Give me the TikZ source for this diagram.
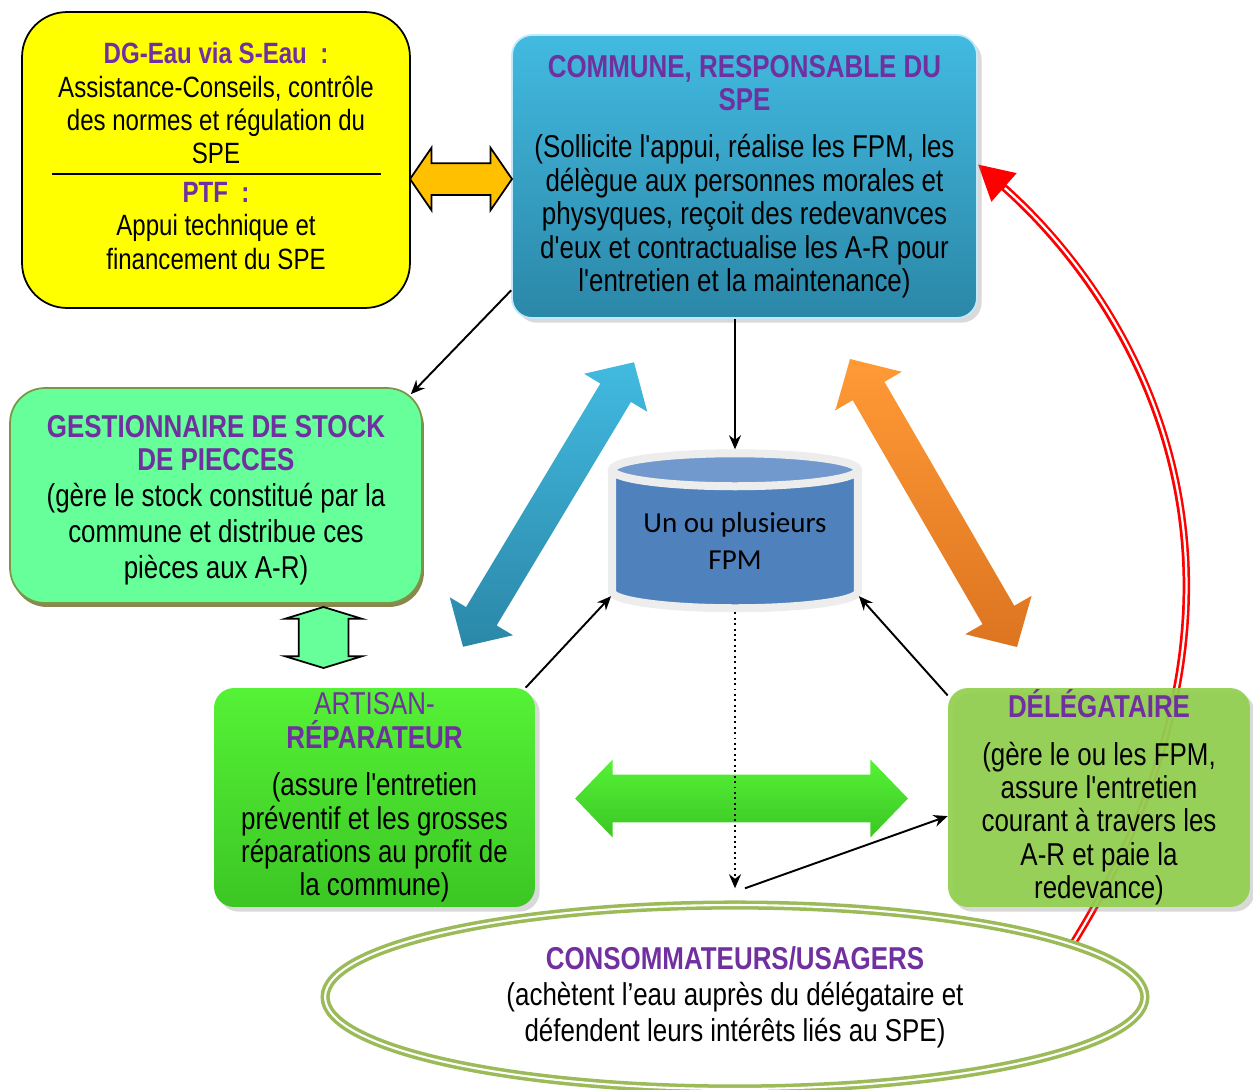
\documentclass[tikz,border=0pt]{standalone}
\usepackage{fontspec}
\setmainfont[FakeStretch=0.82,Ligatures=TeXOff]{Liberation Sans}
\newfontfamily\calibri{Carlito}
\usetikzlibrary{positioning, calc, shapes.geometric, shapes.arrows, arrows.meta, shadows}
\pgfdeclarelayer{fond}
\pgfsetlayers{fond,main}

\definecolor{violetTitre}{HTML}{7030A0}
\definecolor{jaune}{HTML}{FFFF00}
\definecolor{bleuHaut}{HTML}{42BAE0}
\definecolor{bleuBas}{HTML}{2B87A8}
\definecolor{vertClair}{HTML}{66FF99}
\definecolor{vertVif}{HTML}{55F236}
\definecolor{vertVifBas}{HTML}{3CC624}
\definecolor{vertDeleg}{HTML}{92D050}
\definecolor{vertOlive}{HTML}{9BBB59}
\definecolor{orangeHaut}{HTML}{FF9A36}
\definecolor{orangeBas}{HTML}{DD7420}
\definecolor{orangeClair}{HTML}{FFC000}
\definecolor{bleuFPM}{HTML}{4F81BD}
\definecolor{bleuFPMHaut}{HTML}{7199CE}

\newcommand{\titre}[1]{{\bfseries\color{violetTitre}#1}}

\begin{document}
\begin{tikzpicture}[x=0.02cm, y=0.02cm,
    boite/.style={rectangle, rounded corners=0.4cm, align=center, inner sep=0pt,
                  font=\fontsize{18}{19}\selectfont},
    fleche/.style={-{Stealth[length=0.28cm,width=0.24cm]}, line width=1.1pt},
    bloc/.style={double arrow, inner sep=0pt, text depth=0pt}]
\useasboundingbox (0,0) rectangle (1253,-1089);

% partenaires
\node[boite, draw=black, line width=1pt, fill=jaune, rounded corners=0.9cm,
      minimum width=7.76cm, minimum height=5.92cm,
      font=\fontsize{16.7}{19}\selectfont] (dgeau) at (216,-160)
      {\titre{DG-Eau via S-Eau\ \ :}\\ Assistance-Conseils, contrôle\\ des normes et régulation du\\ SPE\\[3pt]
       \titre{PTF\ \ :}\\ Appui technique et\\ financement du SPE\rule[-4.6pt]{0pt}{1pt}};
\draw[line width=0.8pt] ($(dgeau.west)+(31,-14)$) -- ($(dgeau.east)+(-30,-14)$);

% commune
\node[boite, top color=bleuHaut, bottom color=bleuBas, draw=cyan!25!white, line width=1pt,
      drop shadow={opacity=0.3},
      minimum width=9.3cm, minimum height=5.66cm] (commune) at (744.5,-176.5)
      {\titre{COMMUNE, RESPONSABLE DU}\\ \titre{SPE}\\[8pt]
       (Sollicite l'appui, réalise les FPM, les\\ délègue aux personnes morales et\\
       physyques, reçoit des redevanvces\\ d'eux et contractualise les A-R pour\\
       l'entretien et la maintenance)};

\node[bloc, draw=black, line width=1pt, fill=orangeClair, minimum height=2.04cm, minimum width=1.22cm,
      text height=0.6cm, double arrow head extend=0.31cm, double arrow tip angle=111] (fjaune) at (461,-179) {};

% gestionnaire
\node[boite, fill=vertClair, draw=vertOlive!80!black, line width=1pt, rounded corners=0.7cm,
      drop shadow={fill=olive!70!black, shadow xshift=0.04cm, shadow yshift=-0.08cm, opacity=0.8},
      minimum width=8.24cm, minimum height=4.3cm,
      font=\fontsize{18}{20.5}\selectfont] (gest) at (216,-495.5)
      {\titre{\rule{0pt}{18pt}GESTIONNAIRE DE STOCK}\\[-1.5pt] \titre{DE PIECCES}\\ (gère le stock constitué par la\\
       commune et distribue ces\\ pièces aux A-R)};

\node[bloc, draw=black, line width=1pt, fill=vertClair, rotate=90, minimum height=1.22cm, minimum width=1.5cm,
      text height=0.96cm, double arrow head extend=0.27cm, double arrow tip angle=146] (fgest) at (323.5,-637.5) {};

% grosses fleches
\node[bloc, rotate=59, minimum height=6.64cm, minimum width=1.46cm, text height=0.7cm,
      double arrow head extend=0.38cm, double arrow tip angle=92,
      top color=bleuHaut, bottom color=bleuBas] (fbleu) at (548.5,-504.5) {};
\node[bloc, rotate=-59.9, minimum height=6.66cm, minimum width=1.52cm, text height=0.72cm,
      double arrow head extend=0.4cm, double arrow tip angle=92,
      top color=orangeHaut, bottom color=orangeBas] (forange) at (933.5,-503) {};
\node[bloc, minimum height=6.66cm, minimum width=1.54cm, text height=0.94cm,
      double arrow head extend=0.3cm, double arrow tip angle=92,
      top color=vertVif, bottom color=vertVifBas] (fvert) at (741.5,-798.5) {};

% forages
\node[cylinder, shape border rotate=90, aspect=0.18, minimum width=4.92cm, minimum height=3.1cm,
      draw=black!7, line width=0.16cm, cylinder uses custom fill, cylinder body fill=bleuFPM,
      cylinder end fill=bleuFPMHaut, align=center, inner sep=0pt,
      font=\calibri\fontsize{16.5}{21}\selectfont] (fpm) at (735,-541) {Un ou plusieurs\\ FPM};

% artisan et delegataire
\node[boite, top color=vertVif, bottom color=vertVifBas, drop shadow={opacity=0.3},
      minimum width=6.42cm, minimum height=4.38cm] (artisan) at (374.5,-797.5)
      {{\color{violetTitre}ARTISAN-}\\ \titre{RÉPARATEUR}\\[8pt] (assure l'entretien\\
       préventif et les grosses\\ réparations au profit de\\ la commune)};
\node[boite, fill=vertDeleg, fill opacity=0.93, text opacity=1, drop shadow={opacity=0.3},
      minimum width=6.04cm, minimum height=4.38cm] (deleg) at (1099,-797.5)
      {\titre{DÉLÉGATAIRE}\\[8pt] (gère le ou les FPM,\\ assure l'entretien\\ courant à travers les\\
       A-R et paie la\\ redevance)};

% usagers
\node[ellipse, draw=vertOlive, double=white, double distance=1.2pt, line width=2pt,
      minimum width=16.4cm, minimum height=3.68cm, align=center, inner sep=0pt,
      font=\fontsize{18}{20.5}\selectfont] (conso) at (735,-997)
      {\titre{CONSOMMATEURS/USAGERS}\\ (achètent l’eau auprès du délégataire et\\
       défendent leurs intérêts liés au SPE)};

% liaisons
\draw[fleche] (commune.206) -- ([xshift=-0.24cm,yshift=-0.14cm]gest.north east);
\draw[fleche] (commune.south -| fpm.north) -- (fpm.north);
\draw[fleche] (artisan.36) -- (fpm.204);
\draw[fleche] (deleg.146) -- (fpm.336);
\draw[fleche, dotted, line width=1.5pt] (fpm.south) -- ([yshift=0.3cm]conso.north);
\draw[fleche] ([xshift=0.2cm,yshift=0.3cm]conso.north) -- (deleg.187);

\begin{pgfonlayer}{fond}
\draw[red, line width=0.15cm, -{Triangle[length=0.7cm,width=0.72cm]}]
     (conso.9) .. controls (1310,-560) and (1120,-290) .. (commune.3);
\draw[white, line width=0.045cm, shorten >=0.72cm]
     (conso.9) .. controls (1310,-560) and (1120,-290) .. (commune.3);
\end{pgfonlayer}
\end{tikzpicture}
\end{document}
